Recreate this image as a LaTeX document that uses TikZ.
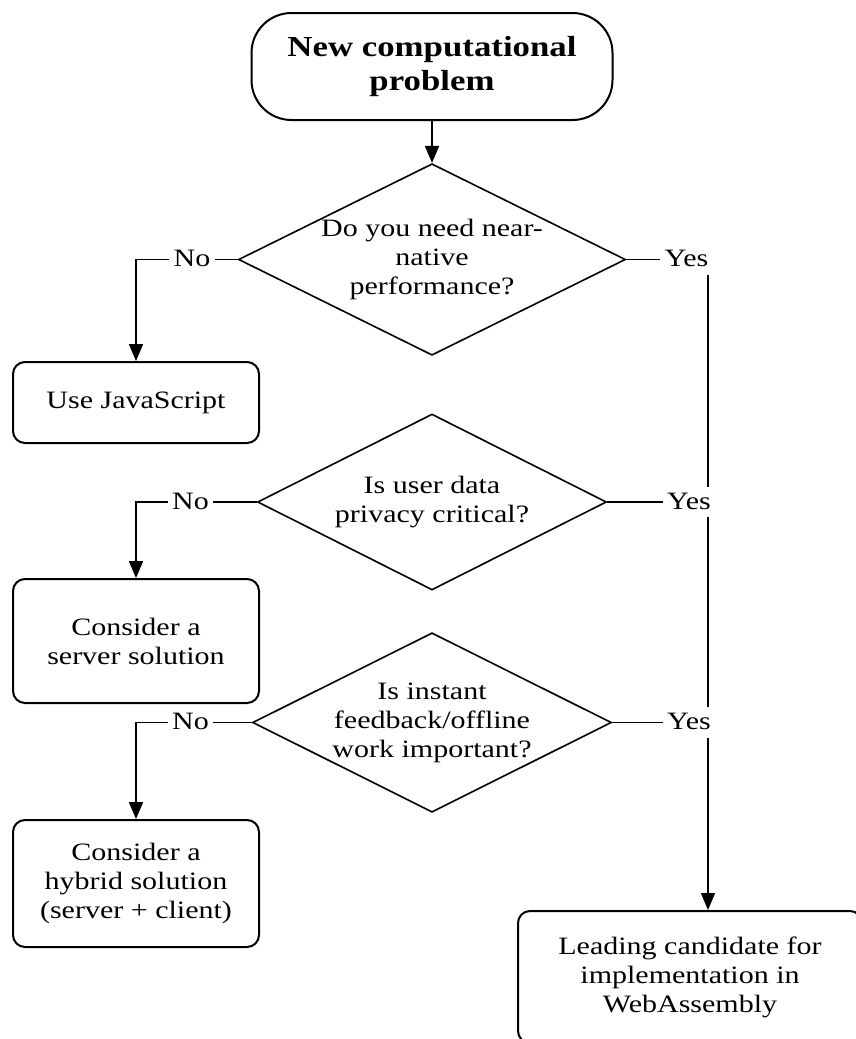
\documentclass[tikz,border=0pt]{standalone}
\usepackage{fontspec}
\setmainfont{Liberation Serif}[FakeStretch=1.2]
\usepackage{tikz}
\usetikzlibrary{shapes.geometric, arrows.meta}
\tikzstyle{startstop} = [rectangle, rounded corners=40pt, text centered, draw, line width=2pt, minimum width=361pt, minimum height=107pt, align=center, font=\fontsize{29}{34}\selectfont\bfseries]
\tikzstyle{process} = [rectangle, rounded corners=12pt, text centered, draw, line width=2pt, minimum width=246pt, align=center, font=\fontsize{25}{29}\selectfont]
\tikzstyle{decision} = [diamond, draw, line width=1.6pt, aspect=2, inner sep=0pt, align=center, font=\fontsize{25}{29}\selectfont]
\tikzstyle{answer} = [fill=white, inner xsep=4pt, inner ysep=5pt, text height=17pt, text depth=3pt, font=\fontsize{25}{29}\selectfont]
\tikzstyle{arrow} = [line width=1.8pt, -{Triangle[length=17pt,width=14pt]}]
\tikzstyle{wire} = [line width=1.8pt]

\begin{document}
\begin{tikzpicture}[x=1pt, y=1pt]
  \useasboundingbox (0,0) rectangle (856,-1039);
  \node (start) [startstop] at (432,-66.5) {New computational\\problem};
  \node (need) [decision, below of=start, node distance=193pt, minimum width=387pt, minimum height=191pt] {Do you need near-\\native\\performance?};
  \node (privacy) [decision, below of=need, node distance=242.5pt, minimum width=349pt, minimum height=176pt] {Is user data\\privacy critical?};
  \node (instant) [decision, below of=privacy, node distance=220.5pt, minimum width=350pt, minimum height=179pt] {Is instant\\feedback/offline\\work important?};

  \node (js) [process, below of=need, node distance=143pt, xshift=-296pt, minimum height=81pt] {Use JavaScript};
  \node (server) [process, below of=privacy, node distance=139pt, xshift=-296pt, minimum height=124pt] {Consider a\\server solution};
  \node (hybrid) [process, below of=instant, node distance=161pt, xshift=-296pt, minimum height=127pt] {Consider a\\hybrid solution\\(server + client)};
  \node (wasm) [process, below of=instant, node distance=254.5pt, xshift=258pt, minimum width=344pt, minimum height=132pt] {Leading candidate for\\implementation in\\WebAssembly};

  % No branches
  \node (no1) [answer, left of=need, node distance=240pt] {No};
  \node (no2) [answer, left of=privacy, node distance=241.5pt] {No};
  \node (no3) [answer, left of=instant, node distance=241.5pt] {No};
  % Yes branches
  \node (yes1) [answer, right of=need, node distance=254.5pt] {Yes};
  \node (yes2) [answer, right of=privacy, node distance=257pt] {Yes};
  \node (yes3) [answer, right of=instant, node distance=257pt] {Yes};
  \coordinate (trunk) at ([xshift=21.5pt]yes1.center);

  \draw [arrow] (start) -- (need);
  \draw [wire] (need) -- (no1);
  \draw [arrow] (no1.west) -| (js.north);
  \draw [wire] (privacy) -- (no2);
  \draw [arrow] (no2.west) -| (server.north);
  \draw [wire] (instant) -- (no3);
  \draw [arrow] (no3.west) -| (hybrid.north);

  \draw [wire] (need) -- (yes1);
  \draw [wire] (privacy) -- (yes2);
  \draw [wire] (instant) -- (yes3);
  \draw [wire] (yes1.south -| trunk) -- (yes2.north -| trunk);
  \draw [wire] (yes2.south -| trunk) -- (yes3.north -| trunk);
  \draw [arrow] (yes3.south -| trunk) -- (wasm.north -| trunk);
\end{tikzpicture}
\end{document}
